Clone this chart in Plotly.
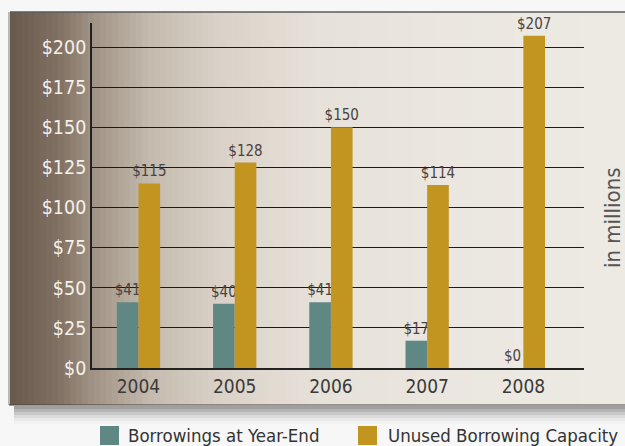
import plotly.graph_objects as go

years = ["2004", "2005", "2006", "2007", "2008"]
borrowings = [41, 40, 41, 17, 0]
unused = [115, 128, 150, 114, 207]
series_names = ["Borrowings at Year-End", "Unused Borrowing Capacity"]
series_colors = ["#5f8784", "#c29420"]
y_ticks = [0, 25, 50, 75, 100, 125, 150, 175, 200]
y_ticktext = ["$" + str(v) for v in y_ticks]

FONT = "DejaVu Sans Condensed, Liberation Sans Narrow, sans-serif"

fig = go.Figure()
for vals, name, colr in [(borrowings, series_names[0], series_colors[0]),
                         (unused, series_names[1], series_colors[1])]:
    fig.add_trace(go.Bar(
        x=years, y=vals, name=name,
        marker=dict(color=colr, line=dict(width=0)),
        text=["$" + str(v) for v in vals], texttemplate="%{text}",
        textposition="outside", cliponaxis=False, constraintext="none",
        textfont=dict(family=FONT, size=15, color="#4a4440"),
        showlegend=False,
    ))

# panel geometry in pixels (style only)
L, R = 92, 584
T, B = 23, 368
def px_x(p):
    return (p - L) / (R - L)
def px_y(p):
    return (B - p) / (B - T)

stops = [(10, (104, 88, 75)), (60, (130, 114, 100)), (92, (160, 146, 132)),
         (150, (196, 186, 174)), (220, (218, 210, 200)), (320, (230, 225, 217)),
         (450, (235, 231, 224)), (625, (237, 234, 228))]
def col_at(x):
    for (x0, c0), (x1, c1) in zip(stops[:-1], stops[1:]):
        if x0 <= x <= x1:
            t = (x - x0) / (x1 - x0)
            return "rgb(%d,%d,%d)" % tuple(round(a + (b - a) * t) for a, b in zip(c0, c1))
    return "rgb(%d,%d,%d)" % stops[-1][1]

shapes = []
step = 6
xpos = 10
while xpos < 625:
    x1 = min(xpos + step, 625)
    shapes.append(dict(type="rect", xref="paper", yref="paper", layer="below",
                       x0=px_x(xpos), x1=px_x(x1 + 0.5), y0=px_y(405), y1=px_y(12),
                       fillcolor=col_at(xpos + step / 2), line=dict(width=0)))
    xpos = x1
shapes.append(dict(type="line", xref="paper", yref="paper", layer="below",
                   x0=px_x(10), x1=px_x(625), y0=px_y(12), y1=px_y(12),
                   line=dict(color="#5a5a5a", width=1.5)))
shapes.append(dict(type="line", xref="paper", yref="paper", layer="below",
                   x0=px_x(9), x1=px_x(9), y0=px_y(405), y1=px_y(12),
                   line=dict(color="#7a7a7a", width=1)))
shapes.append(dict(type="line", xref="paper", yref="paper", layer="below",
                   x0=px_x(9), x1=px_x(625), y0=px_y(405), y1=px_y(405),
                   line=dict(color="#4a4038", width=1.2)))
shade = [(406, 160), (409, 180), (412, 200), (415, 218), (418, 232), (421, 242)]
for yy, g in shade:
    shapes.append(dict(type="rect", xref="paper", yref="paper", layer="below",
                       x0=px_x(14), x1=px_x(625), y0=px_y(yy + 3), y1=px_y(yy),
                       fillcolor="rgb(%d,%d,%d)" % (g, g, g), line=dict(width=0)))

# manual legend
annotations = []
legend_x = [(100, 126), (358, 386)]
for (sx, tx), name, colr in zip(legend_x, series_names, series_colors):
    shapes.append(dict(type="rect", xref="paper", yref="paper",
                       x0=px_x(sx), x1=px_x(sx + 19), y0=px_y(445), y1=px_y(426),
                       fillcolor=colr, line=dict(width=0)))
    annotations.append(dict(text=name, xref="paper", yref="paper",
                            x=px_x(tx), y=px_y(435), xanchor="left", yanchor="middle",
                            showarrow=False,
                            font=dict(family=FONT, size=18.5, color="#333333")))

annotations.append(dict(text="in millions", xref="paper", yref="paper",
                        x=px_x(612), y=px_y(218), textangle=-90, showarrow=False,
                        font=dict(family=FONT, size=22, color="#555555"),
                        xanchor="center", yanchor="middle"))

fig.update_layout(
    width=625, height=446,
    margin=dict(l=L, r=625 - R, t=T, b=446 - B),
    paper_bgcolor="#f7f7f7",
    plot_bgcolor="rgba(0,0,0,0)",
    barmode="group", bargap=0.55, bargroupgap=0,
    font=dict(family=FONT),
    shapes=shapes,
    annotations=annotations,
    showlegend=False,
)
fig.update_xaxes(
    type="category", range=[-0.483, 4.63],
    showline=True, linecolor="#222222", linewidth=1.5,
    showgrid=False, ticks="",
    tickfont=dict(family=FONT, size=19, color="#3a3a3a"),
)
fig.update_yaxes(
    range=[0, 215], tickvals=y_ticks, ticktext=y_ticktext,
    showline=True, linecolor="#222222", linewidth=1.5,
    showgrid=True, gridcolor="#1e1a18", gridwidth=1.3,
    zeroline=False, ticks="", ticklabelstandoff=0,
    tickfont=dict(family=FONT, size=19.5, color="#f4f0ea"),
)

fig.write_html("out.html", config={"displayModeBar": False},
               post_script="document.body.style.margin='0';document.body.style.overflow='hidden';")
